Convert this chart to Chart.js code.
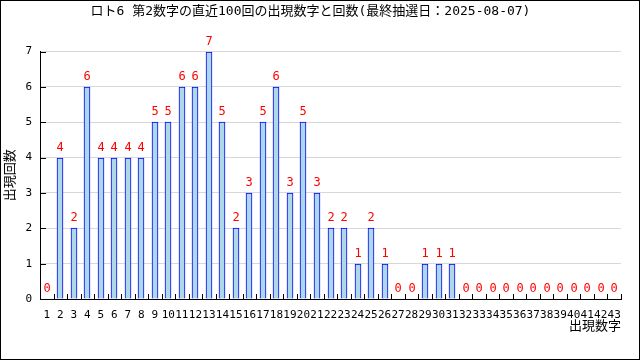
<!DOCTYPE html>
<html>
<head>
<meta charset="utf-8">
<script src="https://cdn.jsdelivr.net/npm/chart.js@4"></script>
<style>
  html, body { margin: 0; padding: 0; background: #fff; }
  canvas { display: block; }
</style>
</head>
<body>
<canvas id="chart" width="640" height="360"></canvas>
<script>
// 出現数字 1..43
const numbers = [];
for (let i = 1; i <= 43; i++) numbers.push(String(i));

// 直近100回の出現回数
const counts = [
  0, 4, 2, 6, 4, 4, 4, 4, 5, 5,
  6, 6, 7, 5, 2, 3, 5, 6, 3, 5,
  3, 2, 2, 1, 2, 1, 0, 0, 1, 1,
  1, 0, 0, 0, 0, 0, 0, 0, 0, 0,
  0, 0, 0
];

const titleText = "ロト6 第2数字の直近100回の出現数字と回数(最終抽選日：2025-08-07)";
const fontFamily = "'DejaVu Sans Mono', 'Noto Sans CJK JP', monospace";

// 値ラベル・目盛り・外枠
const extras = {
  id: "extras",
  beforeDatasetsDraw(chart) {
    // 棒の位置をピクセルに合わせる（枠線をくっきり）
    chart.getDatasetMeta(0).data.forEach(bar => {
      bar.x = Math.round(bar.x);
      bar.y = Math.round(bar.y);
    });
  },
  afterDatasetsDraw(chart) {
    const ctx = chart.ctx;
    const meta = chart.getDatasetMeta(0);
    ctx.save();
    ctx.fillStyle = "#ff0000";
    ctx.font = "12px " + fontFamily;
    ctx.textAlign = "center";
    ctx.textBaseline = "bottom";
    meta.data.forEach((bar, i) => {
      ctx.fillText(String(counts[i]), bar.x, bar.y - 4);
    });
    ctx.restore();
  },
  afterDraw(chart) {
    const ctx = chart.ctx;
    const x = chart.scales.x;
    const y = chart.scales.y;
    const area = chart.chartArea;
    ctx.save();
    ctx.strokeStyle = "#000";
    ctx.lineWidth = 1;
    ctx.beginPath();
    const step = x.getPixelForValue(1) - x.getPixelForValue(0);
    for (let i = 0; i <= numbers.length; i++) {
      const px = Math.round(x.getPixelForValue(i) - step / 2) + 0.5;
      ctx.moveTo(px, area.bottom);
      ctx.lineTo(px, area.bottom - 5);
    }
    for (let v = 0; v <= 7; v++) {
      const py = Math.round(y.getPixelForValue(v)) + 0.5;
      ctx.moveTo(area.left, py);
      ctx.lineTo(area.left + 6, py);
    }
    ctx.stroke();
    ctx.strokeRect(0.5, 0.5, chart.width - 1, chart.height - 1);
    ctx.restore();
  }
};

new Chart(document.getElementById("chart"), {
  type: "bar",
  data: {
    labels: numbers,
    datasets: [{
      data: counts,
      backgroundColor: "#add8e6",
      borderColor: "#0000ff",
      borderWidth: 1,
      barThickness: 6
    }]
  },
  options: {
    responsive: false,
    animation: false,
    devicePixelRatio: 1,
    layout: { padding: { left: 0, right: 19, top: 0, bottom: 26 } },
    plugins: {
      legend: { display: false },
      tooltip: { enabled: false },
      title: {
        display: true,
        text: titleText,
        color: "#000",
        font: { family: fontFamily, size: 13, weight: "normal" },
        padding: { top: 4, bottom: 32 }
      }
    },
    scales: {
      x: {
        offset: true,
        grid: { display: false },
        border: { display: true, color: "#000" },
        ticks: {
          autoSkip: false,
          maxRotation: 0,
          color: "#000",
          padding: 2,
          font: { family: fontFamily, size: 11 }
        },
        title: {
          display: true,
          text: "出現数字",
          align: "end",
          color: "#000",
          font: { family: fontFamily, size: 13 },
          padding: { top: 0, bottom: 0 }
        },
        afterFit(scale) { scale.height = 35; }
      },
      y: {
        min: 0,
        max: 7,
        grid: { color: "#d8d8d8", drawTicks: false },
        border: { display: true, color: "#000" },
        ticks: {
          stepSize: 1,
          color: "#000",
          padding: 8,
          font: { family: fontFamily, size: 11 }
        },
        title: {
          display: true,
          text: "出現回数",
          color: "#000",
          font: { family: fontFamily, size: 13 },
          padding: { top: 3, bottom: 0 }
        },
        afterFit(scale) { scale.width = 40; }
      }
    }
  },
  plugins: [extras]
});
</script>
</body>
</html>
